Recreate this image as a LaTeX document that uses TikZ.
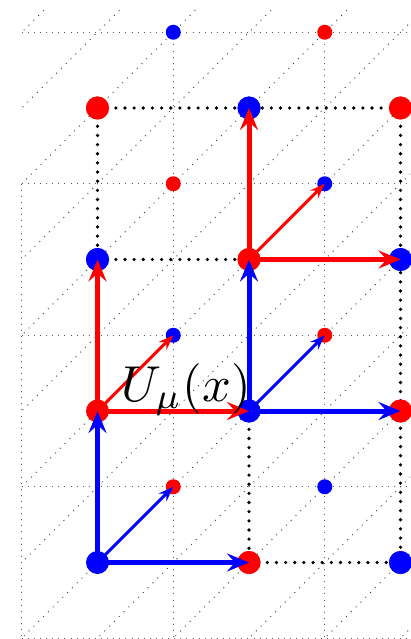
\documentclass[tikz,border=0pt]{standalone}
\usetikzlibrary{arrows.meta}
\definecolor{pblue}{RGB}{0,0,255}
\definecolor{pred}{RGB}{255,0,0}
\begin{document}
\begin{tikzpicture}[x=1pt,y=-1pt,
  gridline/.style={black!65, line width=1pt, dash pattern=on 1pt off 5.1pt},
  diagline/.style={black!75, line width=1pt, dash pattern=on 1pt off 5.8pt},
  blackdots/.style={black, line width=3.6pt, line cap=round, dash pattern=on 0pt off 9.15pt},
  bigdot/.style={circle, inner sep=0pt, minimum size=23pt},
  smalldot/.style={circle, inner sep=0pt, minimum size=15pt},
  mainarrow/.style={line width=5pt, -{Stealth[length=22pt,width=18pt,inset=8pt]}},
  diagarrow/.style={line width=3pt, -{Stealth[length=15pt,width=11pt,inset=5pt]}},
  lbl/.style={inner sep=0pt, scale=5.05}
]
\useasboundingbox (0,0) rectangle (410,639);
% background gray grid (back plane)
\draw[gridline] (21.75,183.75) -- (21.75,639);
\draw[gridline] (173.25,32.25) -- (173.25,639);
\draw[gridline] (324.75,32.25) -- (324.75,639);
\foreach \yy in {32.25,183.75,335.25,486.75,638.25}
  \draw[gridline] (21.75,\yy) -- (410,\yy);
% diagonal lines
\begin{scope}
\clip (21.75,9) rectangle (410,638.6);
\foreach \m in {0,...,13}
  \draw[diagline] ({21.75+75.75*\m-700},{32.25+700}) -- ({21.75+75.75*\m+100},{32.25-100});
\end{scope}
% lattice sites
\node[bigdot, fill=pblue] (A00) at (97.5,562.5) {};
\node[bigdot, fill=pred]  (A10) at (249,562.5) {};
\node[bigdot, fill=pblue] (A20) at (400.5,562.5) {};
\node[bigdot, fill=pred]  (A01) at (97.5,411) {};
\node[bigdot, fill=pblue] (A11) at (249,411) {};
\node[bigdot, fill=pred]  (A21) at (400.5,411) {};
\node[bigdot, fill=pblue] (A02) at (97.5,259.5) {};
\node[bigdot, fill=pred]  (A12) at (249,259.5) {};
\node[bigdot, fill=pblue] (A22) at (400.5,259.5) {};
\node[bigdot, fill=pred]  (A03) at (97.5,108) {};
\node[bigdot, fill=pblue] (A13) at (249,108) {};
\node[bigdot, fill=pred]  (A23) at (400.5,108) {};
\node[smalldot, fill=pred]  (B00) at (173.25,486.75) {};
\node[smalldot, fill=pblue] (B10) at (324.75,486.75) {};
\node[smalldot, fill=pblue] (B01) at (173.25,335.25) {};
\node[smalldot, fill=pred]  (B11) at (324.75,335.25) {};
\node[smalldot, fill=pred]  (B02) at (173.25,183.75) {};
\node[smalldot, fill=pblue] (B12) at (324.75,183.75) {};
\node[smalldot, fill=pblue] (B03) at (173.25,32.25) {};
\node[smalldot, fill=pred]  (B13) at (324.75,32.25) {};
% black dotted plaquette edges
\draw[blackdots] (A03.center) -- (A23.center);
\draw[blackdots] (A03.center) -- (A02.center);
\draw[blackdots] (A02.center) -- (A12.center);
\draw[blackdots] (A23.center) -- (A20.center);
\draw[blackdots] (A11.center) -- (A10.center);
\draw[blackdots] (A10.center) -- (A20.center);
% redraw dots over black dotted lines
\foreach \n/\c in {A03/pred,A23/pred,A02/pblue,A12/pred,A20/pblue,A10/pred,A11/pblue,A21/pred,A22/pblue,A13/pblue}
  \fill[\c] (\n.center) circle (11.5pt);
% link arrows
\draw[mainarrow, pblue] (A00.center) -- (A10.center);
\draw[mainarrow, pblue] (A00.center) -- (A01.center);
\draw[diagarrow, pblue] (A00.center) -- (B00.center);
\draw[mainarrow, pred] (A01.center) -- (A11.center);
\draw[mainarrow, pred] (A01.center) -- (A02.center);
\draw[diagarrow, pred] (A01.center) -- (B01.center);
\draw[mainarrow, pblue] (A11.center) -- (A21.center);
\draw[mainarrow, pblue] (A11.center) -- (A12.center);
\draw[diagarrow, pblue] (A11.center) -- (B11.center);
\draw[mainarrow, pred] (A12.center) -- (A22.center);
\draw[mainarrow, pred] (A12.center) -- (A13.center);
\draw[diagarrow, pred] (A12.center) -- (B12.center);
% label
\node[lbl, anchor=base west] (U) at (120,401) {$U_\mu(x)$};
\end{tikzpicture}
\end{document}
